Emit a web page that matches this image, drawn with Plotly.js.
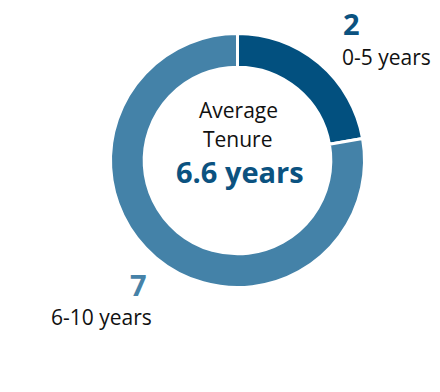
<!DOCTYPE html>
<html>
<head>
<meta charset="utf-8">
<script src="https://cdn.plot.ly/plotly-3.0.1.min.js"></script>
<style>html,body{margin:0;padding:0;background:#fff;}#chart{width:440px;height:392px;}</style>
</head>
<body>
<div id="chart"></div>
<script>
var categories = ['0-5 years', '6-10 years'];
var values = [2, 7];
var sliceColors = ['#02507F', '#4482A8'];
var averageTenure = 6.6;

var W = 440, H = 392;
function px(x){ return x / W; }
function py(y){ return 1 - y / H; }

var cx = 237.5, cy = 160.5, R = 127;

var trace = {
  type: 'pie',
  labels: categories,
  values: values,
  hole: 0.735,
  sort: false,
  direction: 'clockwise',
  rotation: 0,
  textinfo: 'none',
  hoverinfo: 'label+value',
  marker: { colors: sliceColors, line: { color: '#ffffff', width: 3 } },
  domain: { x: [px(cx - R), px(cx + R)], y: [py(cy + R), py(cy - R)] },
  showlegend: false
};

var font = 'Open Sans, Noto Sans, sans-serif';
var annotations = [
  { text: '<b>' + values[0] + '</b>', x: px(351), y: py(24), font: { size: 29, color: '#0B5280', family: font } },
  { text: categories[0], x: px(386), y: py(57), font: { size: 21, color: '#111111', family: font } },
  { text: '<b>' + values[1] + '</b>', x: px(138), y: py(284), font: { size: 29, color: '#4682A8', family: font } },
  { text: categories[1], x: px(101), y: py(317), font: { size: 21, color: '#111111', family: font } },
  { text: 'Average', x: px(238), y: py(110), font: { size: 21, color: '#111111', family: font } },
  { text: 'Tenure', x: px(238), y: py(139), font: { size: 21, color: '#111111', family: font } },
  { text: '<b>' + averageTenure + ' years</b>', x: px(240), y: py(172), font: { size: 29, color: '#0B5280', family: font } }
].map(function(a){
  a.xref = 'paper'; a.yref = 'paper'; a.showarrow = false;
  a.xanchor = 'center'; a.yanchor = 'middle';
  return a;
});

var layout = {
  width: W, height: H,
  margin: { l: 0, r: 0, t: 0, b: 0 },
  paper_bgcolor: '#ffffff',
  plot_bgcolor: '#ffffff',
  annotations: annotations,
  showlegend: false
};

Plotly.newPlot('chart', [trace], layout, { displayModeBar: false, staticPlot: true });
</script>
</body>
</html>
